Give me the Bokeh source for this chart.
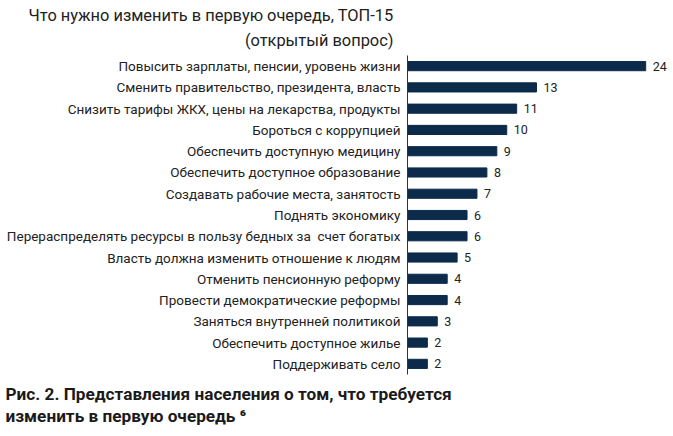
from bokeh.plotting import figure
from bokeh.models import FactorRange, Range1d, Title, ColumnDataSource
from bokeh.core.properties import value
from bokeh.embed import file_html
from bokeh.resources import INLINE

categories = [
    "Повысить зарплаты, пенсии, уровень жизни",
    "Сменить правительство, президента, власть",
    "Снизить тарифы ЖКХ, цены на лекарства, продукты",
    "Бороться с коррупцией",
    "Обеспечить доступную медицину",
    "Обеспечить доступное образование",
    "Создавать рабочие места, занятость",
    "Поднять экономику",
    "Перераспределять ресурсы в пользу бедных за\u00a0 счет богатых",
    "Власть должна изменить отношение к людям",
    "Отменить пенсионную реформу",
    "Провести демократические реформы",
    "Заняться внутренней политикой",
    "Обеспечить доступное жилье",
    "Поддерживать село",
]
values = [24, 13, 11, 10, 9, 8, 7, 6, 6, 5, 4, 4, 3, 2, 2]
title_lines = ["Что нужно изменить в первую очередь, ТОП-15", "(открытый вопрос)"]
caption_lines = ["Рис. 2. Представления населения о том, что требуется",
                 "изменить в первую очередь ⁶"]

FONT = "Roboto"
BAR = "#0c2b4b"

W, H = 673, 436
LEFT, RIGHT = 407, 5
FRAME_RIGHT = W - RIGHT

src = ColumnDataSource(dict(cat=categories, val=values, lab=[str(v) for v in values]))

p = figure(width=W, height=H, output_backend="svg", toolbar_location=None,
           y_range=FactorRange(factors=categories[::-1], range_padding=0),
           x_range=Range1d(0, 26.3),
           min_border_left=LEFT, min_border_right=RIGHT, min_border_top=55, min_border_bottom=62)
p.outline_line_color = None
p.grid.grid_line_color = None
p.background_fill_color = "white"
p.border_fill_color = "white"

p.hbar(y="cat", right="val", left=0, height=0.43, color=BAR, source=src)
p.text(x="val", y="cat", text="lab", source=src, x_offset=7,
       text_align="left", text_baseline="middle",
       text_font=value(FONT), text_font_size="12.5px", text_color="#222222")

p.xaxis.visible = False
ya = p.yaxis[0]
ya.major_tick_line_color = None
ya.minor_tick_line_color = None
ya.major_tick_out = 0
ya.major_tick_in = 0
ya.minor_tick_out = 0
ya.minor_tick_in = 0
ya.axis_line_color = "#333333"
ya.axis_line_width = 1
ya.major_label_standoff = 7
ya.major_label_text_font = FONT
ya.major_label_text_font_size = "13.5px"
ya.major_label_text_color = "#222222"

# two right-aligned title lines; the first added sits nearest the frame
p.add_layout(Title(text=title_lines[1], align="right", offset=FRAME_RIGHT - 393,
                   standoff=12, text_font=FONT, text_font_size="16.4px",
                   text_font_style="normal", text_color="#222222"),
             "above")
p.add_layout(Title(text=title_lines[0], align="right", offset=FRAME_RIGHT - 393,
                   standoff=-5, text_font=FONT, text_font_size="16.4px",
                   text_font_style="normal", text_color="#222222"),
             "above")
p.add_layout(Title(text="\n".join(caption_lines), align="left", offset=-(LEFT - 5),
                   standoff=16, text_font=FONT, text_font_size="17.2px",
                   text_font_style="bold", text_color="#1a1a1a", text_line_height=1.12),
             "below")

open("out.html", "w").write(file_html(p, INLINE))
